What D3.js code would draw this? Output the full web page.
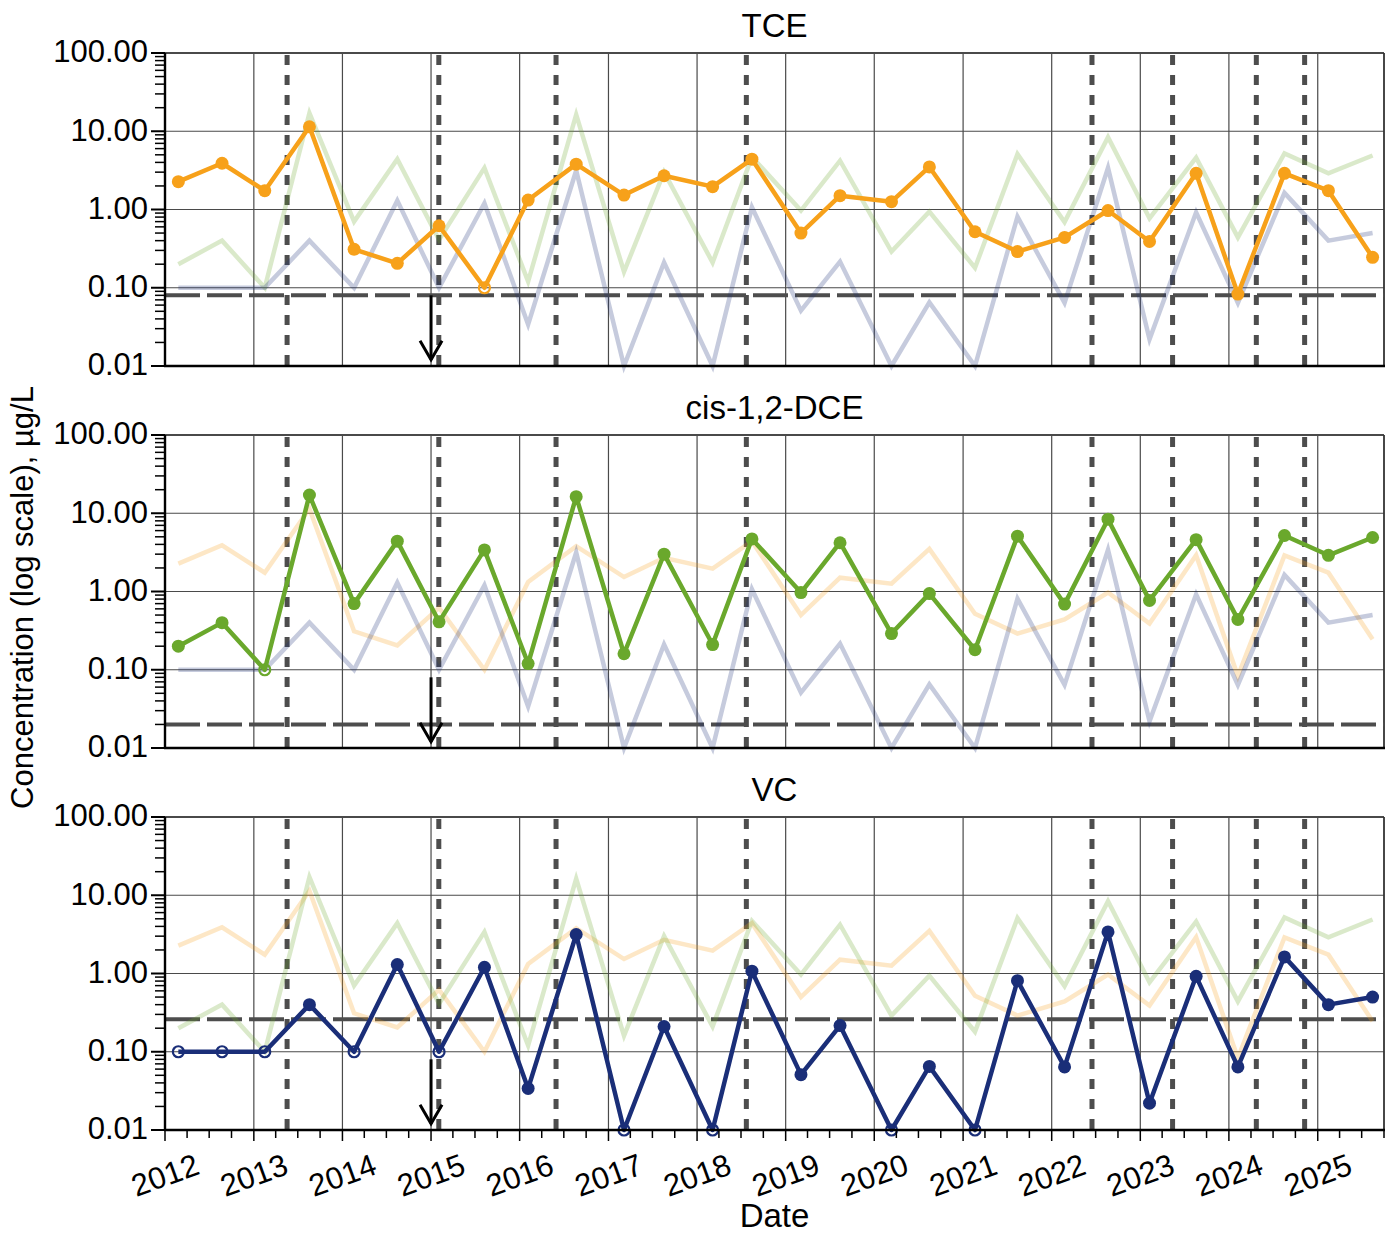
<!DOCTYPE html>
<html>
<head>
<meta charset="utf-8">
<script src="https://cdn.jsdelivr.net/npm/d3@7"></script>
<style>
  html, body { margin: 0; padding: 0; background: #fff; }
  svg { display: block; font-family: "Liberation Sans", Arial, Helvetica, sans-serif; }
</style>
</head>
<body>
<svg id="chart" width="1391" height="1235"></svg>
<script>
// ---------------- data ----------------
const sampleDates = ["2012-02-25","2012-08-23","2013-02-15","2013-08-18","2014-02-18","2014-08-15",
  "2015-02-03","2015-08-09","2016-02-05","2016-08-21","2017-03-06","2017-08-18","2018-03-06","2018-08-15",
  "2019-03-05","2019-08-13","2020-03-12","2020-08-15","2021-02-19","2021-08-13","2022-02-23","2022-08-21",
  "2023-02-08","2023-08-19","2024-02-07","2024-08-17","2025-02-14","2025-08-15"];

const tceValues = [2.27, 3.9, 1.74, 11.4, 0.31, 0.205, 0.62, 0.10, 1.32, 3.8, 1.53, 2.7, 1.96, 4.4,
  0.50, 1.50, 1.26, 3.5, 0.52, 0.29, 0.44, 0.97, 0.39, 2.9, 0.083, 2.9, 1.74, 0.245];
const tceNonDetect = [0,0,0,0,0,0,0,1,0,0,0,0,0,0,0,0,0,0,0,0,0,0,0,0,0,0,0,0];

const dceValues = [0.20, 0.40, 0.10, 17.1, 0.70, 4.4, 0.41, 3.4, 0.12, 16.3, 0.16, 3.0, 0.21, 4.7,
  0.97, 4.2, 0.29, 0.94, 0.18, 5.1, 0.69, 8.4, 0.77, 4.6, 0.44, 5.2, 2.9, 4.9];
const dceNonDetect = [0,0,1,0,0,0,0,0,0,0,0,0,0,0,0,0,0,0,0,0,0,0,0,0,0,0,0,0];

const vcValues = [0.10, 0.10, 0.10, 0.40, 0.10, 1.30, 0.10, 1.20, 0.034, 3.15, 0.01, 0.21, 0.01, 1.07,
  0.051, 0.216, 0.01, 0.065, 0.01, 0.81, 0.064, 3.4, 0.022, 0.92, 0.064, 1.63, 0.40, 0.50];
const vcNonDetect = [1,1,1,0,1,0,1,0,0,0,1,0,1,0,0,0,1,0,1,0,0,0,0,0,0,0,0,0];

const panelTitles = ["TCE", "cis-1,2-DCE", "VC"];
const screeningLevels = [0.08, 0.02, 0.26];
const eventDates = ["2013-05-18","2015-02-02","2016-05-30","2018-07-23","2022-06-16","2023-05-14","2024-04-23","2024-11-08"];
const arrowDate = "2015-01-01";
const arrowRange = [0.08, 0.012];
const xDomain = ["2012-01-01", "2025-10-01"];
const yDomain = [0.01, 100];
const yTickValues = [0.01, 0.1, 1, 10, 100];
const yAxisTitle = "Concentration (log scale), µg/L";
const xAxisTitle = "Date";

// ---------------- setup ----------------
const parse = d3.utcParse("%Y-%m-%d");
const dates = sampleDates.map(parse);
const series = [
  {name: "TCE", values: tceValues, nd: tceNonDetect, color: "#F7A11A"},
  {name: "DCE", values: dceValues, nd: dceNonDetect, color: "#6AA82C"},
  {name: "VC",  values: vcValues,  nd: vcNonDetect,  color: "#1A2E78"}
];

const svg = d3.select("#chart");
const left = 165, right = 1384;
const panelTops = [53, 435, 817];
const panelH = 313;
const x = d3.scaleUtc().domain(xDomain.map(parse)).range([left, right]);
const fs = 31, fsTitle = 33;

const gridColor = "#4a4a4a";
const dashColor = "#4d4d4d";

panelTops.forEach((top, pi) => {
  const y = d3.scaleLog().domain(yDomain).range([top + panelH, top]);
  const g = svg.append("g");

  // vertical year grid
  const years = d3.utcYear.range(parse("2013-01-01"), x.domain()[1]);
  g.selectAll(".vg").data(years).join("line")
    .attr("x1", d => x(d)).attr("x2", d => x(d))
    .attr("y1", top).attr("y2", top + panelH)
    .attr("stroke", gridColor).attr("stroke-width", 1.2);

  // horizontal decade grid
  g.selectAll(".hg").data(yTickValues.slice(1)).join("line")
    .attr("x1", left).attr("x2", right)
    .attr("y1", d => y(d)).attr("y2", d => y(d))
    .attr("stroke", gridColor).attr("stroke-width", d => d === 100 ? 1.8 : 1.2);

  // right border
  g.append("line").attr("x1", right).attr("x2", right).attr("y1", top).attr("y2", top + panelH)
    .attr("stroke", "#333").attr("stroke-width", 1.8);

  // event dashed verticals
  g.selectAll(".ev").data(eventDates.map(parse)).join("line")
    .attr("x1", d => x(d)).attr("x2", d => x(d))
    .attr("y1", top + 2).attr("y2", top + panelH)
    .attr("stroke", dashColor).attr("stroke-width", 5)
    .attr("stroke-dasharray", "10,10");

  // screening level horizontal dashed
  g.append("line")
    .attr("x1", left).attr("x2", right)
    .attr("y1", y(screeningLevels[pi])).attr("y2", y(screeningLevels[pi]))
    .attr("stroke", dashColor).attr("stroke-width", 4)
    .attr("stroke-dasharray", "35,7");

  const line = d3.line().x((d, i) => x(dates[i])).y(d => y(d));

  // faded other series
  series.forEach((s, si) => {
    if (si === pi) return;
    g.append("path").attr("d", line(s.values))
      .attr("fill", "none").attr("stroke", s.color).attr("stroke-opacity", 0.25)
      .attr("stroke-width", 4.5).attr("stroke-linejoin", "miter");
  });

  // main series
  const s = series[pi];
  g.append("path").attr("d", line(s.values))
    .attr("fill", "none").attr("stroke", s.color).attr("stroke-width", 4.5)
    .attr("stroke-linejoin", "round");
  g.selectAll(".pt").data(s.values).join("circle")
    .attr("cx", (d, i) => x(dates[i])).attr("cy", d => y(d))
    .attr("r", (d, i) => s.nd[i] ? 5.5 : 6.5)
    .attr("fill", (d, i) => s.nd[i] ? "none" : s.color)
    .attr("stroke", s.color).attr("stroke-width", (d, i) => s.nd[i] ? 2.2 : 0);

  // arrow
  const ax = x(parse(arrowDate));
  const ay1 = y(arrowRange[0]), ay2 = y(arrowRange[1]);
  g.append("line").attr("x1", ax).attr("x2", ax).attr("y1", ay1).attr("y2", ay2)
    .attr("stroke", "#000").attr("stroke-width", 3);
  g.append("path")
    .attr("d", d3.line()([[ax - 11, ay2 - 19], [ax, ay2], [ax + 11, ay2 - 19]]))
    .attr("fill", "none").attr("stroke", "#000").attr("stroke-width", 3);

  // y axis
  const minor = [];
  [0.01, 0.1, 1, 10].forEach(dec => { for (let k = 2; k <= 9; k++) minor.push(dec * k); });
  g.selectAll(".ymin").data(minor).join("line")
    .attr("x1", left - 10).attr("x2", left).attr("y1", d => y(d)).attr("y2", d => y(d))
    .attr("stroke", "#000").attr("stroke-width", 1.5);
  g.selectAll(".ymaj").data(yTickValues).join("line")
    .attr("x1", left - 14).attr("x2", left).attr("y1", d => y(d)).attr("y2", d => y(d))
    .attr("stroke", "#000").attr("stroke-width", 2);
  g.selectAll(".ylab").data(yTickValues).join("text")
    .attr("x", left - 17).attr("y", d => y(d)).attr("dy", "0.3em")
    .attr("text-anchor", "end").attr("font-size", fs).attr("fill", "#000")
    .text(d => d3.format(".2f")(d));
  g.append("line").attr("x1", left).attr("x2", left).attr("y1", top).attr("y2", top + panelH + 1)
    .attr("stroke", "#000").attr("stroke-width", 2.4);
  g.append("line").attr("x1", left - 1).attr("x2", right + 1).attr("y1", top + panelH).attr("y2", top + panelH)
    .attr("stroke", "#000").attr("stroke-width", 2.4);

  // title
  g.append("text").attr("x", (left + right) / 2).attr("y", top - 16)
    .attr("text-anchor", "middle").attr("font-size", fsTitle).text(panelTitles[pi]);

  // x axis on bottom panel only
  if (pi === 2) {
    const bottom = top + panelH;
    const quarters = d3.utcMonth.every(3).range(x.domain()[0], d3.utcDay.offset(x.domain()[1], 1));
    g.selectAll(".xmin").data(quarters).join("line")
      .attr("x1", d => x(d)).attr("x2", d => x(d))
      .attr("y1", bottom).attr("y2", d => bottom + (d.getUTCMonth() === 0 ? 11 : 8))
      .attr("stroke", "#000").attr("stroke-width", 1.5);
    const yearTicks = d3.utcYear.range(x.domain()[0], x.domain()[1]);
    g.selectAll(".xlab").data(yearTicks).join("text")
      .attr("transform", d => `translate(${x(d)},${bottom + 45}) rotate(-20)`)
      .attr("text-anchor", "middle").attr("dy", "0.35em").attr("font-size", fs)
      .text(d => d3.utcFormat("%Y")(d));
    g.append("text").attr("x", (left + right) / 2).attr("y", 1227)
      .attr("text-anchor", "middle").attr("font-size", fsTitle).text(xAxisTitle);
  }
});

svg.append("text")
  .attr("transform", `translate(22, ${(panelTops[0] + panelTops[2] + panelH) / 2 + 6}) rotate(-90)`)
  .attr("text-anchor", "middle").attr("dy", "0.35em").attr("font-size", fs)
  .text(yAxisTitle);
</script>
</body>
</html>
